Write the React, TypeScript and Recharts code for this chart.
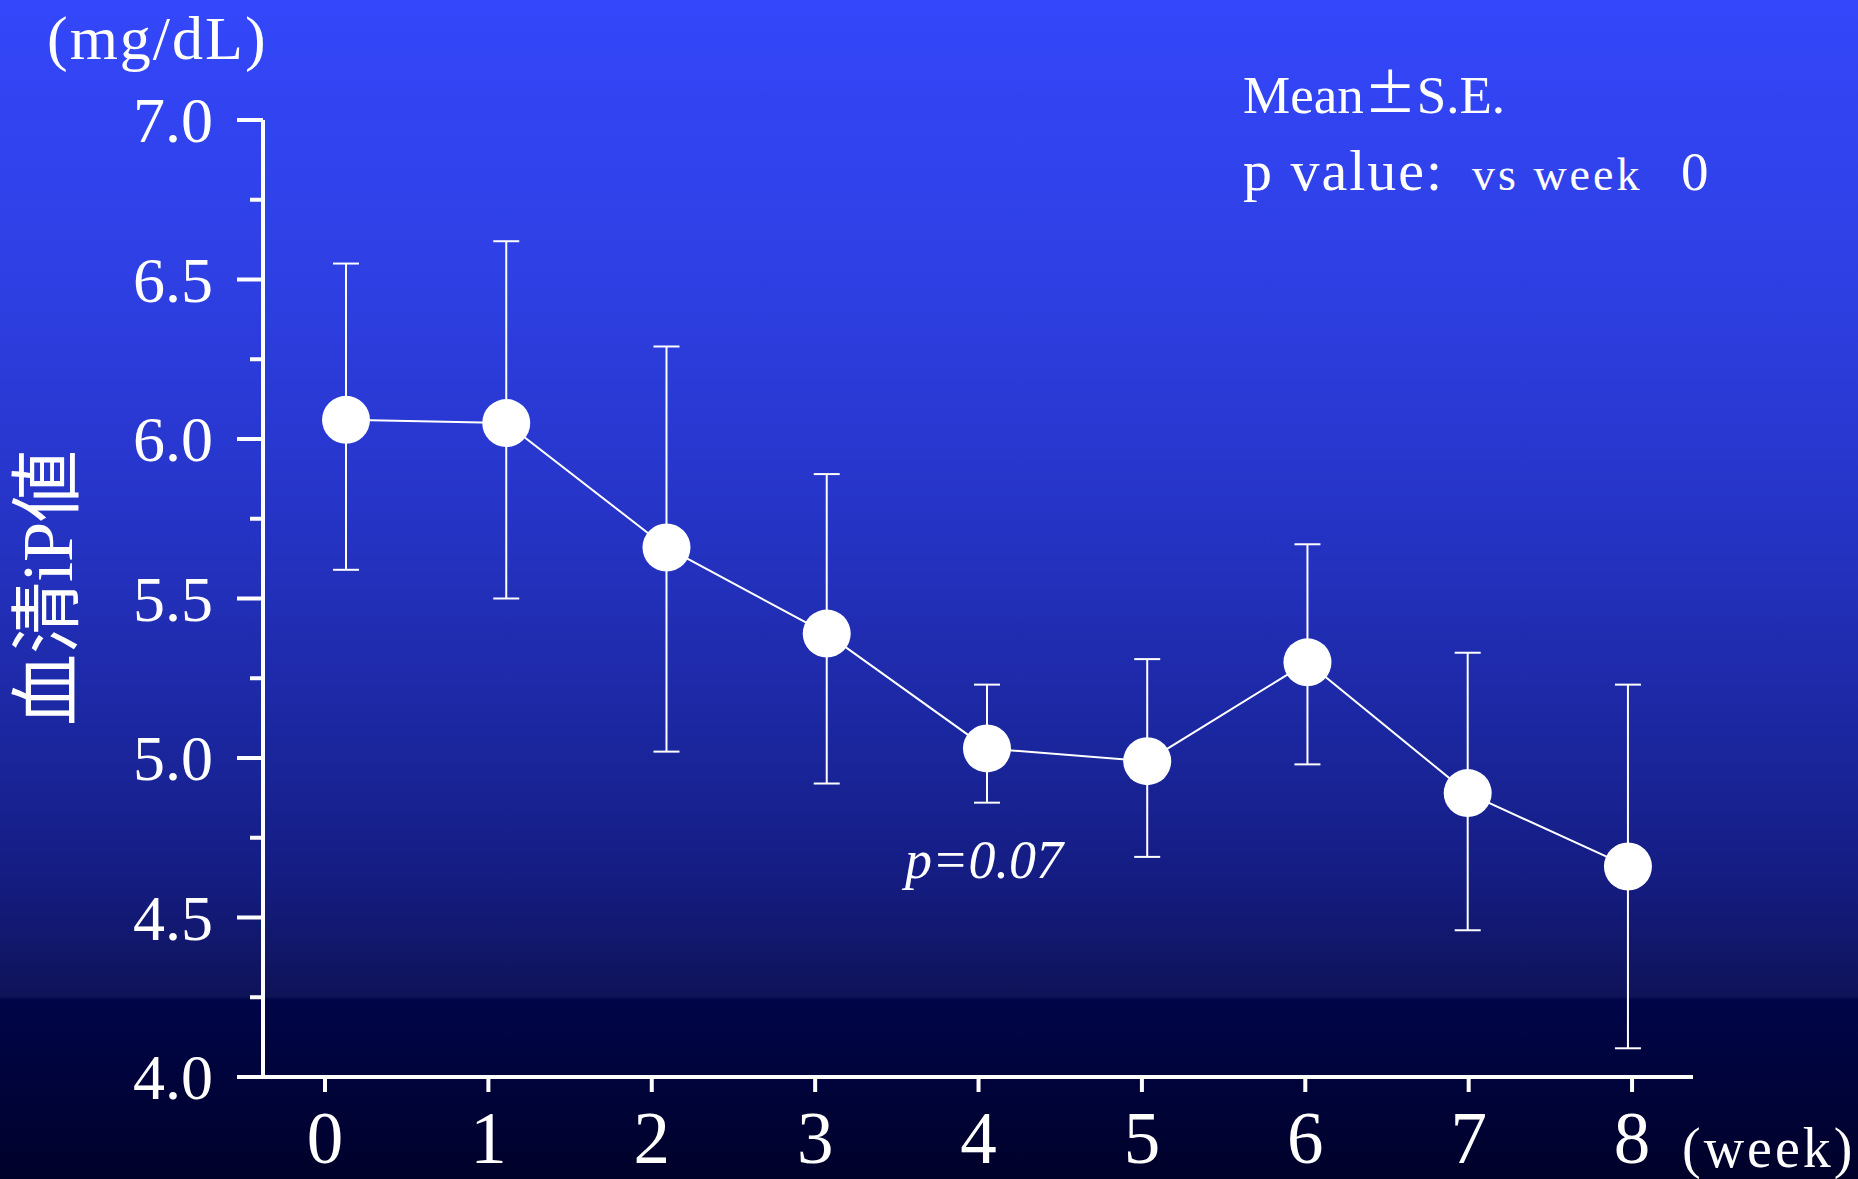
import { ComposedChart, Line, ErrorBar, XAxis, YAxis } from 'recharts';

const weeks = [0, 1, 2, 3, 4, 5, 6, 7, 8];
const means = [6.06, 6.05, 5.66, 5.39, 5.03, 4.99, 5.3, 4.89, 4.66];
const upper = [6.55, 6.62, 6.29, 5.89, 5.23, 5.31, 5.67, 5.33, 5.23];
const lower = [5.59, 5.5, 5.02, 4.92, 4.86, 4.69, 4.98, 4.46, 4.09];
const xTicks = [0, 1, 2, 3, 4, 5, 6, 7, 8];
const yTicks = [4, 4.25, 4.5, 4.75, 5, 5.25, 5.5, 5.75, 6, 6.25, 6.5, 6.75, 7];

const W = 1858;
const H = 1179;
const PLOT_LEFT = 263;
const PLOT_TOP = 120;
const PLOT_RIGHT = 1693;
const PLOT_BOTTOM = 1077;

const SERIF = '"Liberation Serif", "DejaVu Serif", serif';
const CJK = '"Noto Sans CJK JP", sans-serif';

const data = weeks.map((w, i) => ({
  week: w,
  mean: means[i],
  err: [+(means[i] - lower[i]).toFixed(3), +(upper[i] - means[i]).toFixed(3)],
}));

const YTick = (props: any) => {
  const { y, payload } = props;
  const v = payload.value as number;
  const major = Math.abs(v * 2 - Math.round(v * 2)) < 1e-6;
  return (
    <g>
      <line x1={PLOT_LEFT - (major ? 26 : 13)} x2={PLOT_LEFT} y1={y} y2={y} stroke="#fff" strokeWidth={4} />
      {major && (
        <text x={PLOT_LEFT - 50} y={y} dy={22} textAnchor="end" fill="#fff" fontFamily={SERIF} fontSize={64}>
          {v.toFixed(1)}
        </text>
      )}
    </g>
  );
};

const XTick = (props: any) => {
  const { x, payload } = props;
  return (
    <text x={x} y={1163} textAnchor="middle" fill="#fff" fontFamily={SERIF} fontSize={73}>
      {payload.value}
    </text>
  );
};

export default function App() {
  return (
    <div
      style={{
        position: 'absolute',
        left: 0,
        top: 0,
        width: W,
        height: H,
        overflow: 'hidden',
        background:
          'linear-gradient(to bottom, #3447fa 0%, #2e3fe2 25%, #2533c4 45%, #1b27a0 62%, #141c80 75%, #0f1358 84.5%, #000548 84.8%, #00022a 100%)',
      }}
    >
      <ComposedChart
        width={W}
        height={H}
        data={data}
        margin={{ top: PLOT_TOP, right: W - PLOT_RIGHT, bottom: 0, left: 0 }}
      >
        <XAxis
          xAxisId="p"
          dataKey="week"
          type="number"
          domain={[-0.518, 8.406]}
          allowDataOverflow
          height={0}
          hide
        />
        <XAxis
          xAxisId="t"
          dataKey="week"
          type="number"
          domain={[-0.3795, 8.373]}
          allowDataOverflow
          ticks={xTicks}
          interval={0}
          height={H - PLOT_BOTTOM}
          axisLine={{ stroke: '#fff', strokeWidth: 4 }}
          tickLine={{ stroke: '#fff', strokeWidth: 4 }}
          tickSize={15}
          tick={<XTick />}
        />
        <YAxis
          type="number"
          domain={[4, 7]}
          ticks={yTicks}
          interval={0}
          width={PLOT_LEFT}
          axisLine={{ stroke: '#fff', strokeWidth: 4 }}
          tickLine={false}
          tick={<YTick />}
        />
        <Line
          xAxisId="p"
          dataKey="mean"
          stroke="#fff"
          strokeWidth={2}
          dot={{ r: 24, fill: '#fff', stroke: 'none' }}
          isAnimationActive={false}
        >
          <ErrorBar dataKey="err" direction="y" width={13} stroke="#fff" strokeWidth={2} isAnimationActive={false} />
        </Line>
      </ComposedChart>
      <svg width={W} height={H} style={{ position: 'absolute', left: 0, top: 0, pointerEvents: 'none' }}>
        <text x={47} y={59} fill="#fff" fontFamily={SERIF} fontSize={62} letterSpacing={2}>
          (mg/dL)
        </text>
        <text x={1243} y={113} fill="#fff" fontFamily={SERIF} fontSize={53}>
          Mean<tspan fontFamily={CJK}>±</tspan>S.E.
        </text>
        <text x={1243} y={190} fill="#fff" fontFamily={SERIF} fontSize={58} letterSpacing={2}>
          p value:
        </text>
        <text x={1472} y={190} fill="#fff" fontFamily={SERIF} fontSize={46} letterSpacing={3}>
          vs week
        </text>
        <text x={1681} y={190} fill="#fff" fontFamily={SERIF} fontSize={55}>
          0
        </text>
        <text x={905} y={878} fill="#fff" fontFamily={SERIF} fontSize={54} fontStyle="italic">
          p=0.07
        </text>
        <text x={1682} y={1167} fill="#fff" fontFamily={SERIF} fontSize={56} letterSpacing={3}>
          (week)
        </text>
        <text
          x={48}
          y={588}
          transform="rotate(-90 48 588)"
          textAnchor="middle"
          dominantBaseline="central"
          fill="#fff"
          fontFamily={'"Liberation Serif", "Noto Sans CJK JP", serif'}
          fontSize={72}
        >
          血清iP値
        </text>
      </svg>
    </div>
  );
}
